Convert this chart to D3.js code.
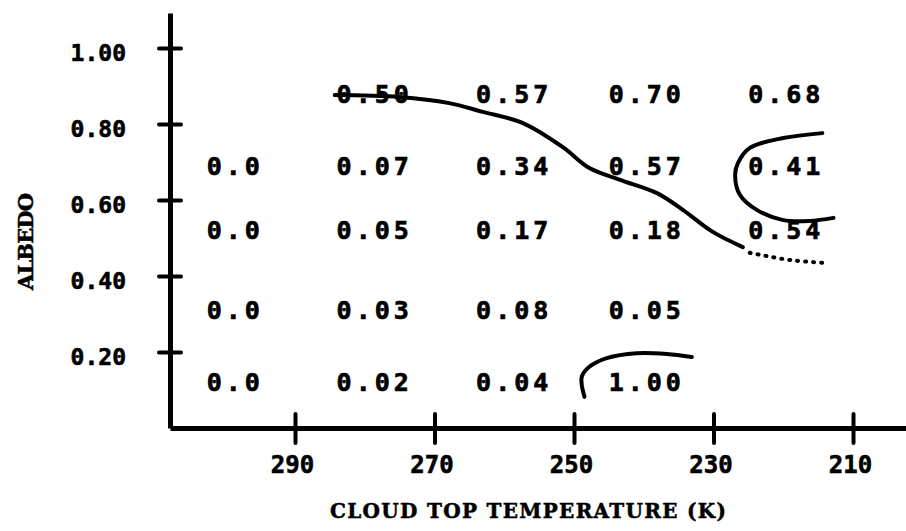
<!DOCTYPE html>
<html>
<head>
<meta charset="utf-8">
<script src="https://cdn.jsdelivr.net/npm/d3@7"></script>
<style>
  body { margin: 0; background: #fff; }
  svg { display: block; }
</style>
</head>
<body>
<div id="chart"></div>
<script>
// cloud top temperature bins (K) and albedo rows
var columnTemps = [299, 279, 259, 240, 220];
var rowAlbedos = [0.88, 0.69, 0.52, 0.31, 0.12];

// table values, one array per albedo row (top to bottom), null = empty cell
var row1 = [null, "0.50", "0.57", "0.70", "0.68"];
var row2 = ["0.0", "0.07", "0.34", "0.57", "0.41"];
var row3 = ["0.0", "0.05", "0.17", "0.18", "0.54"];
var row4 = ["0.0", "0.03", "0.08", "0.05", null];
var row5 = ["0.0", "0.02", "0.04", "1.00", null];

var xTicks = [290, 270, 250, 230, 210];
var yTicks = [0.2, 0.4, 0.6, 0.8, 1.0];

// hand drawn contours, [temperature, albedo]
var mainContour = [[284.3, 0.876], [275.1, 0.871], [267.9, 0.855], [263.1, 0.832],
  [257.4, 0.803], [251.6, 0.739], [247.8, 0.684], [243.4, 0.653], [238.1, 0.618],
  [234.4, 0.574], [230.1, 0.516], [225.8, 0.476]];
var dottedContour = [[224.8, 0.461], [219.0, 0.442], [213.6, 0.434]];
var loopContour = [[214.4, 0.776], [220.0, 0.763], [224.8, 0.737], [226.5, 0.697],
  [226.9, 0.666], [226.2, 0.613], [223.8, 0.574], [220.0, 0.547], [216.2, 0.545],
  [212.8, 0.553]];
var cornerContour = [[248.5, 0.082], [248.9, 0.134], [247.8, 0.161], [245.3, 0.184],
  [241.0, 0.197], [236.7, 0.195], [233.1, 0.187]];

var width = 906, height = 531;
var left = 170, bottom = 428;

var svg = d3.select("#chart").append("svg")
  .attr("width", width)
  .attr("height", height);

var x = d3.scaleLinear().domain([290, 210]).range([295, 853]);
var y = d3.scaleLinear().domain([0, 1]).range([bottom, 48]);

// stretch the scales over the full axis length
var xAxisScale = x.copy().domain([x.invert(left), x.invert(width)]).range([left, width]);
var yAxisScale = y.copy().domain([0, y.invert(13)]).range([bottom, 13]);

var monoFont = "'DejaVu Sans Mono', 'Liberation Mono', monospace";
var typeFont = "'DejaVu Serif', 'Liberation Serif', serif";

// x axis
var gx = svg.append("g")
  .attr("transform", "translate(0," + bottom + ")")
  .call(d3.axisBottom(xAxisScale).tickValues(xTicks).tickSizeOuter(0).tickFormat(d3.format("d")));
gx.select(".domain").attr("stroke", "#000").attr("stroke-width", 5);
gx.selectAll(".tick line").attr("y1", -14).attr("y2", 15).attr("stroke-width", 4).attr("stroke-linecap", "round");
gx.selectAll(".tick text")
  .attr("y", 45).attr("dy", 0).attr("dx", -3)
  .style("font-family", monoFont).style("font-weight", "bold").style("font-size", "24px")
  .attr("fill", "#000").attr("stroke", "#000").attr("stroke-width", 0.6);

// y axis
var gy = svg.append("g")
  .attr("transform", "translate(" + left + ",0)")
  .call(d3.axisLeft(yAxisScale).tickValues(yTicks).tickSizeOuter(0).tickFormat(d3.format(".2f")));
gy.select(".domain").attr("stroke", "#000").attr("stroke-width", 5);
gy.selectAll(".tick line").attr("x1", -11).attr("x2", 11).attr("stroke-width", 4).attr("stroke-linecap", "round");
gy.selectAll(".tick text")
  .attr("x", -44).attr("dy", "0.55em")
  .style("font-family", monoFont).style("font-weight", "bold").style("font-size", "23px")
  .attr("fill", "#000").attr("stroke", "#000").attr("stroke-width", 0.6);

// axis titles
svg.append("text")
  .attr("x", 330).attr("y", 518)
  .attr("textLength", 396).attr("lengthAdjust", "spacing")
  .style("font-family", typeFont).style("font-weight", "bold").style("font-size", "20px")
  .attr("stroke", "#000").attr("stroke-width", 0.5)
  .text("CLOUD TOP TEMPERATURE (K)");

svg.append("text")
  .attr("transform", "translate(33,290) rotate(-90)")
  .attr("textLength", 97).attr("lengthAdjust", "spacing")
  .style("font-family", typeFont).style("font-weight", "bold").style("font-size", "21px")
  .attr("stroke", "#000").attr("stroke-width", 0.5)
  .text("ALBEDO");

// table values
var rows = [row1, row2, row3, row4, row5];
var cells = [];
rows.forEach(function(r, i) {
  r.forEach(function(v, j) {
    if (v !== null) cells.push({ t: columnTemps[j], a: rowAlbedos[i], label: v });
  });
});

svg.append("g").selectAll("text")
  .data(cells)
  .enter().append("text")
    .attr("x", function(d) { return x(d.t) + 3; })
    .attr("y", function(d) { return y(d.a); })
    .attr("dy", "0.36em")
    .attr("text-anchor", "middle")
    .attr("stroke", "#000").attr("stroke-width", 0.7)
    .style("font-family", monoFont).style("font-weight", "bold").style("font-size", "25px")
    .style("letter-spacing", "4px")
    .text(function(d) { return d.label; });

// contours
var line = d3.line()
  .curve(d3.curveCatmullRom)
  .x(function(d) { return x(d[0]); })
  .y(function(d) { return y(d[1]); });

[mainContour, loopContour, cornerContour].forEach(function(c) {
  svg.append("path")
    .datum(c)
    .attr("fill", "none")
    .attr("stroke", "#000")
    .attr("stroke-width", 4)
    .attr("stroke-linecap", "round")
    .attr("stroke-linejoin", "round")
    .attr("d", line);
});

svg.append("path")
  .datum(dottedContour)
  .attr("fill", "none")
  .attr("stroke", "#000")
  .attr("stroke-width", 4)
  .attr("stroke-linecap", "round")
  .attr("stroke-dasharray", "1,7")
  .attr("d", line);
</script>
</body>
</html>
